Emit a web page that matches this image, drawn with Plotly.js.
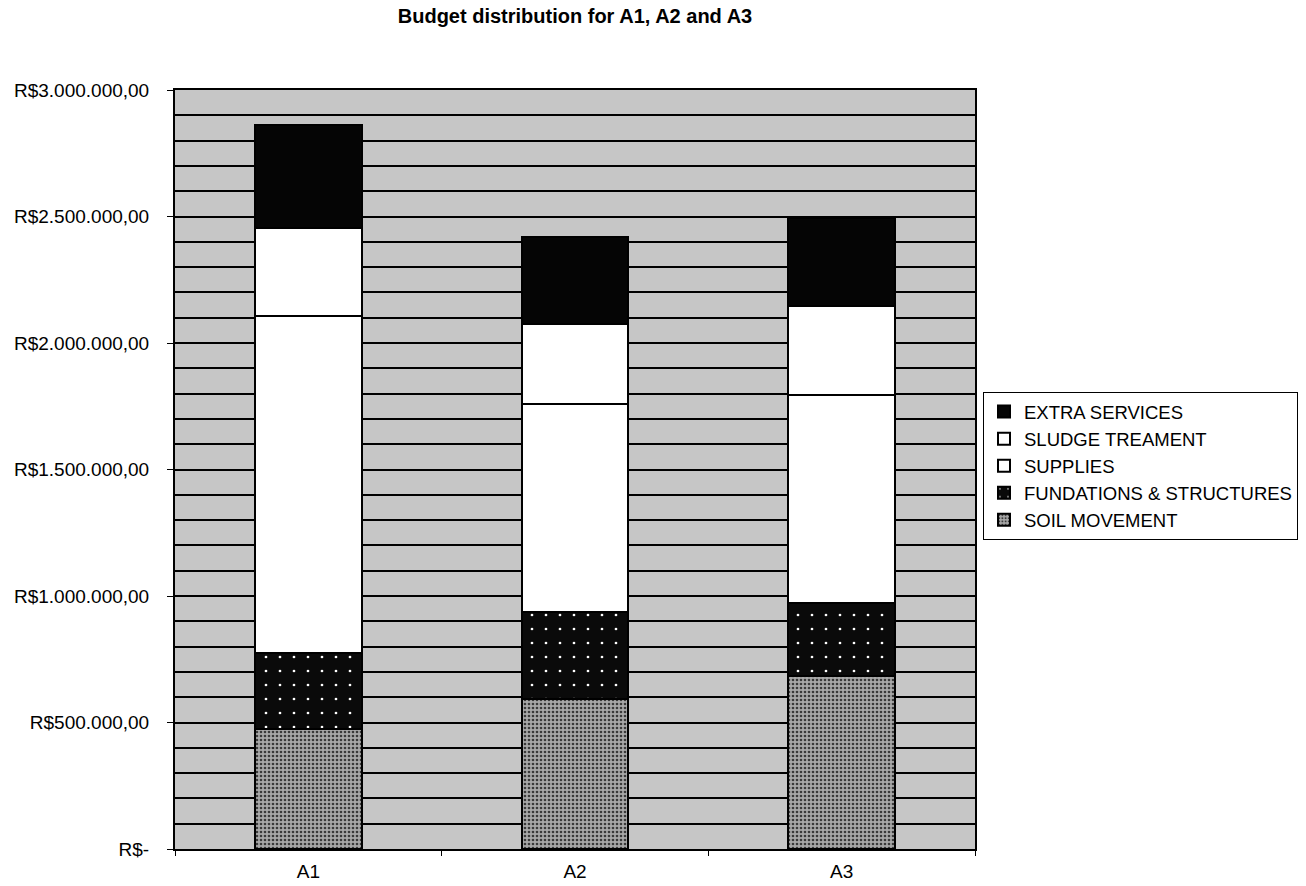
<!DOCTYPE html>
<html>
<head>
<meta charset="utf-8">
<script src="https://cdn.plot.ly/plotly-3.0.1.min.js"></script>
<style>html,body{margin:0;padding:0;background:#fff;}#chart{width:1306px;height:886px;}</style>
</head>
<body>
<div id="chart"></div>
<script>
const categories = ["A1", "A2", "A3"];
const soilMovement = [474000, 593000, 684000];
const fundations = [299000, 344000, 288000];
const supplies = [1334000, 822000, 822000];
const sludgeTreatment = [348000, 316000, 352000];
const extraServices = [407000, 344000, 348000];
const seriesNames = ["SOIL MOVEMENT", "FUNDATIONS & STRUCTURES", "SUPPLIES", "SLUDGE TREAMENT", "EXTRA SERVICES"];
const tickValues = [0, 500000, 1000000, 1500000, 2000000, 2500000, 3000000];
const tickLabels = ["R$-", "R$500.000,00", "R$1.000.000,00", "R$1.500.000,00", "R$2.000.000,00", "R$2.500.000,00", "R$3.000.000,00"];

const seriesValues = [soilMovement, fundations, supplies, sludgeTreatment, extraServices];
const fills = ["#8e8e8e", "#0a0a0a", "#ffffff", "#ffffff", "#050505"];
const patterns = [
  {shape: ".", fgcolor: "#3a3a3a", bgcolor: "#a8a8a8", size: 4, solidity: 0.35},
  {shape: ".", fgcolor: "#ffffff", bgcolor: "#0a0a0a", size: 14, solidity: 0.03},
  null, null, null
];

const traces = seriesValues.map((vals, i) => {
  const t = {
    type: "bar",
    name: seriesNames[i],
    x: categories,
    y: vals,
    width: 0.4,
    marker: {color: fills[i], line: {color: "#000", width: 2}},
    hoverinfo: "skip"
  };
  if (patterns[i]) t.marker.pattern = patterns[i];
  return t;
});

const layout = {
  width: 1306,
  height: 886,
  barmode: "stack",
  paper_bgcolor: "#ffffff",
  plot_bgcolor: "#c6c6c6",
  font: {family: "Liberation Sans, Arial, sans-serif", color: "#000", size: 19},
  margin: {l: 175, r: 331, t: 90, b: 37, autoexpand: false},
  title: {
    text: "<b>Budget distribution for A1, A2 and A3</b>",
    font: {size: 20, color: "#000", family: "Liberation Sans, Arial, sans-serif"},
    x: 0.5, xref: "paper", xanchor: "center",
    y: 0.982, yref: "container", yanchor: "middle"
  },
  xaxis: {
    showgrid: false,
    showline: true, linecolor: "#000", linewidth: 2, mirror: true,
    ticks: "outside", ticklen: 5, tickcolor: "#000", tickson: "boundaries",
    ticklabelstandoff: 4,
    tickfont: {size: 19},
    zeroline: false
  },
  yaxis: {
    range: [0, 3000000],
    tickvals: tickValues,
    ticktext: tickLabels,
    ticks: "outside", ticklen: 6, tickcolor: "#000",
    ticklabelstandoff: 14,
    showline: true, linecolor: "#000", linewidth: 2, mirror: true,
    showgrid: true, gridcolor: "#000", gridwidth: 2,
    minor: {dtick: 100000, showgrid: true, gridcolor: "#000", gridwidth: 2},
    zeroline: false,
    tickfont: {size: 19}
  },
  legend: {
    x: 1.01, xanchor: "left",
    y: 0.602, yanchor: "top",
    traceorder: "reversed",
    bgcolor: "#ffffff",
    bordercolor: "#000",
    borderwidth: 1,
    font: {size: 18.5},
    itemwidth: 30
  },
  showlegend: true
};

Plotly.newPlot("chart", traces, layout, {displayModeBar: false, staticPlot: true});
</script>
</body>
</html>
